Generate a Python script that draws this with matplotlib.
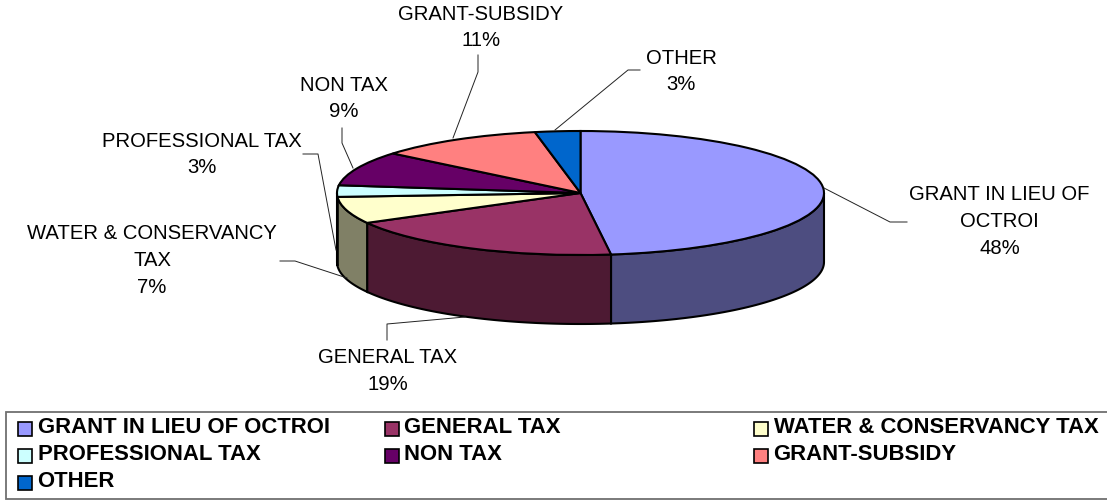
#!/usr/bin/env python3
"""plot.py - 3D looking pie of revenue shares, saved as out.png"""
import numpy as np
import matplotlib
matplotlib.use("Agg")
import matplotlib.pyplot as plt
from matplotlib.colors import to_rgb
from matplotlib.patches import Rectangle

plt.rcParams["font.family"] = ["Liberation Sans", "DejaVu Sans"]

categories = ["GRANT IN LIEU OF OCTROI", "GENERAL TAX", "WATER & CONSERVANCY TAX",
              "PROFESSIONAL TAX", "NON TAX", "GRANT-SUBSIDY", "OTHER"]
wrapped_names = ["GRANT IN LIEU OF\nOCTROI", "GENERAL TAX", "WATER & CONSERVANCY\nTAX",
                 "PROFESSIONAL TAX", "NON TAX", "GRANT-SUBSIDY", "OTHER"]
shares = [48, 19, 7, 3, 9, 11, 3]
colors = ["#9999FF", "#993366", "#FFFFCC", "#CCFFFF", "#660066", "#FF8080", "#0066CC"]

# pixel layout of the picture
W, H = 1107, 500
CX, CY, RX, RY, DEPTH = 580.5, 193, 243.5, 62, 69

label_pos = [(999.5, 221.5), (388, 371), (152, 260.5), (202, 154.5), (343.5, 98.5), (481, 27.5), (681, 71.5)]
leaders = [
    [(824, 188), (890, 222), (907, 222)],
    [(465, 317), (387, 324), (387, 340)],
    [(347, 278), (295, 261), (280, 261)],
    [(336, 250), (318, 154), (303, 154)],
    [(353, 168), (342, 143), (342, 128)],
    [(453, 138), (478, 72), (478, 55)],
    [(555, 130), (628, 70), (640, 70)],
]
legend_cols = [18, 385, 754]
legend_rows = [428, 455, 482]

fig = plt.figure(figsize=(W / 100, H / 100), dpi=100)

# pie axes: one data unit is the radius, squashed into an ellipse
ax = fig.add_axes([0, 0, 1, 1])
wedges, _ = ax.pie(shares, colors=colors, startangle=90, counterclock=False,
                   wedgeprops={"edgecolor": "black", "linewidth": 1.5, "zorder": 3})
ax.set_aspect("auto")
ax.set_xlim(-CX / RX, (W - CX) / RX)
ax.set_ylim((CY - H) / RY, CY / RY)
ax.axis("off")

# side wall, only the front half of the rim shows
depth = DEPTH / RY
edges = np.cumsum([0] + shares) / sum(shares) * 360
for a0, a1, col in zip(edges[:-1], edges[1:], colors):
    lo, hi = max(a0, 90), min(a1, 270)
    if lo >= hi:
        continue
    t = np.radians(np.linspace(lo, hi, 80))
    xs, ys = np.sin(t), np.cos(t)
    ax.fill(np.r_[xs, xs[::-1]], np.r_[ys, ys[::-1] - depth],
            facecolor=np.array(to_rgb(col)) * 0.5, edgecolor="black",
            linewidth=1.5, zorder=2)

# overlay in pixel coordinates for labels and legend
ov = fig.add_axes([0, 0, 1, 1])
ov.set_xlim(0, W)
ov.set_ylim(H, 0)
ov.axis("off")
ov.patch.set_alpha(0)

for name, val, (x, y), path in zip(wrapped_names, shares, label_pos, leaders):
    ov.text(x, y, f"{name}\n{val}%", ha="center", va="center", fontsize=14.6,
            linespacing=1.53, color="black")
    px, py = zip(*path)
    ov.plot(px, py, color="#222222", linewidth=0.7)

ov.add_patch(Rectangle((6, 412), 1102, 87, facecolor="none", edgecolor="#707070", linewidth=1.3))
for i, (name, col) in enumerate(zip(categories, colors)):
    row, column = divmod(i, 3)
    x, y = legend_cols[column], legend_rows[row]
    ov.add_patch(Rectangle((x, y - 6), 13.5, 13.5, facecolor=col, edgecolor="black", linewidth=1.2))
    ov.text(x + 19.5, y - 0.5, name, ha="left", va="center", fontsize=15.9, fontweight="bold")

fig.savefig("out.png", dpi=100)
